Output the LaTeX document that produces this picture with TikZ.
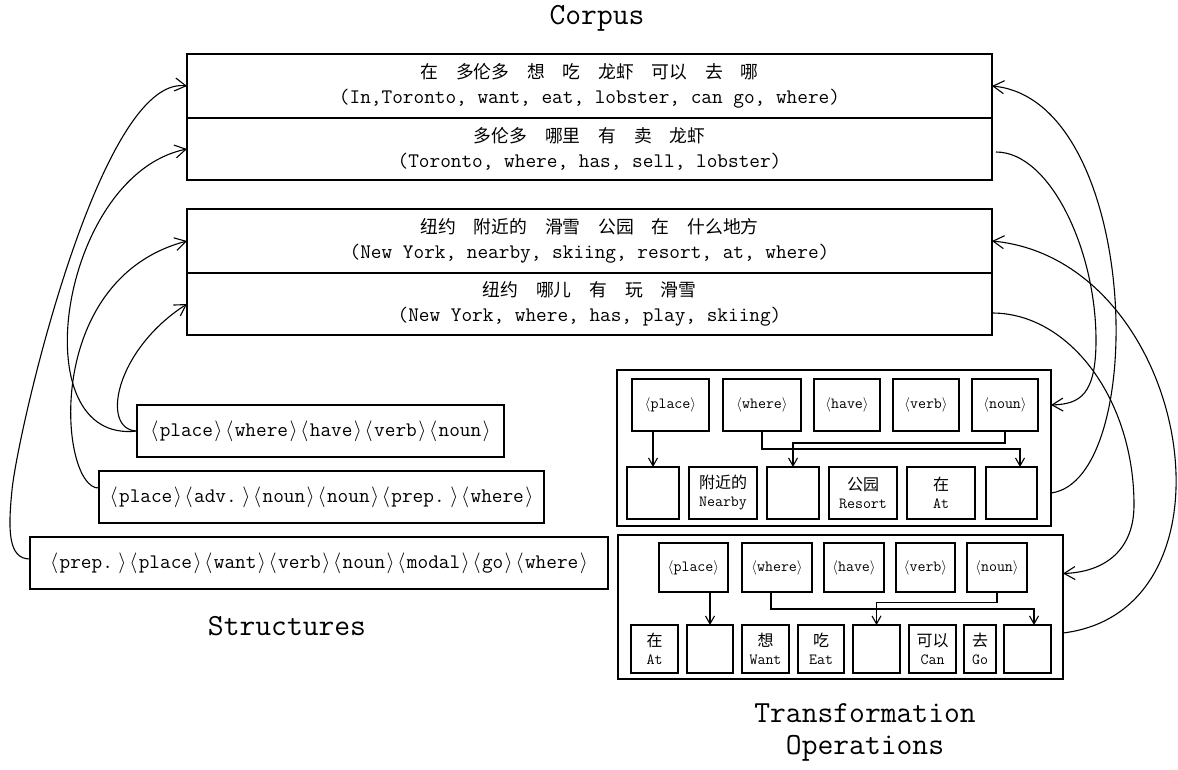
\documentclass[tikz,border=0pt]{standalone}
\usepackage{fontspec}
\newfontfamily\cjk{Noto Sans CJK SC}
\usetikzlibrary{arrows.meta}
% angle brackets as wide as one typewriter letter
\newcommand\lb{\makebox[0.525em]{$\langle$}}
\newcommand\rb{\makebox[0.525em]{$\rangle$}}
\newcommand\cnrow[1]{{\cjk #1}}
\newcommand\enrow[1]{{\ttfamily\fontsize{20.7}{24.5}\selectfont #1}}
\newcommand\cncell[1]{{\cjk\fontsize{16}{18}\selectfont #1}}

\begin{document}
\begin{tikzpicture}[x=1pt,y=-1pt,
  frame/.style={draw, line width=1.3pt, inner sep=0pt, outer sep=0pt, align=center},
  row/.style={frame, minimum width=805pt, font=\fontsize{17.8}{24.5}\selectfont},
  struct/.style={frame, minimum height=52pt, font=\ttfamily\fontsize{20.7}{24.5}\selectfont},
  cell/.style={frame, line width=1.2pt, font=\ttfamily\fontsize{15.5}{18}\selectfont},
  link/.style={line width=1.1pt},
  bigarrow/.style={link, -{Straight Barb[length=11pt,width=13pt]}},
  smallarrow/.style={link, -{Straight Barb[length=8pt,width=9pt]}},
  title/.style={inner sep=0pt, font=\ttfamily\fontsize{30.7}{36}\selectfont}]
\useasboundingbox (0,0) rectangle (1178,769);

% titles
\node[title] (tcorpus) at (597,18) {Corpus};
\node[title] (tstruct) at (287,626) {Structures};
\node[title] (ttrans) at (865,713) {Transformation};
\node[title] (toper) at (865,748) {Operations};

% corpus sentences
\node[row, minimum height=64pt] (c1) at (589.5,86)
  {\cnrow{在　多伦多　想　吃　龙虾　可以　去　哪}\\\enrow{(In,Toronto, want, eat, lobster, can go, where)}};
\node[row, minimum height=62pt] (c2) at (589.5,149)
  {\cnrow{多伦多　哪里　有　卖　龙虾}\\\enrow{(Toronto, where, has, sell, lobster)}};
\node[row, minimum height=64pt] (c3) at (589.5,241)
  {\cnrow{纽约　附近的　滑雪　公园　在　什么地方}\\\enrow{(New York, nearby, skiing, resort, at, where)}};
\node[row, minimum height=62pt] (c4) at (589.5,304)
  {\cnrow{纽约　哪儿　有　玩　滑雪}\\\enrow{(New York, where, has, play, skiing)}};

% structures
\node[struct, minimum width=367pt] (S1) at (320.5,431)
  {\lb place\rb\lb where\rb\lb have\rb\lb verb\rb\lb noun\rb};
\node[struct, minimum width=445pt] (S2) at (321.5,497)
  {\lb place\rb\lb adv.\kern0.2em\rb\lb noun\rb\lb noun\rb\lb prep.\kern0.2em\rb\lb where\rb};
\node[struct, minimum width=578pt] (S3) at (319,563)
  {\lb prep.\kern0.2em\rb\lb place\rb\lb want\rb\lb verb\rb\lb noun\rb\lb modal\rb\lb go\rb\lb where\rb};

% transformation operation 1
\node[frame, minimum width=434pt, minimum height=156pt] (T1) at (834,448) {};
\node[cell, minimum width=77pt, minimum height=52pt] (pl1) at (670.5,405) {$\langle$place$\rangle$};
\node[cell, minimum width=78pt, minimum height=52pt] (wh1) at (762,405) {$\langle$where$\rangle$};
\node[cell, minimum width=66pt, minimum height=52pt] (ha1) at (847,405) {$\langle$have$\rangle$};
\node[cell, minimum width=66pt, minimum height=52pt] (ve1) at (926,405) {$\langle$verb$\rangle$};
\node[cell, minimum width=66pt, minimum height=52pt] (no1) at (1005,405) {$\langle$noun$\rangle$};
\node[cell, minimum width=52pt, minimum height=52pt] (a1) at (653,493) {};
\node[cell, minimum width=68pt, minimum height=52pt] (a2) at (723,493) {\cncell{附近的}\\Nearby};
\node[cell, minimum width=52pt, minimum height=52pt] (a3) at (793,493) {};
\node[cell, minimum width=68pt, minimum height=52pt] (a4) at (863,493) {\cncell{公园}\\Resort};
\node[cell, minimum width=68pt, minimum height=52pt] (a5) at (941,493) {\cncell{在}\\At};
\node[cell, minimum width=51pt, minimum height=52pt] (a6) at (1011.5,493) {};

\draw[smallarrow] (a1.north |- pl1.south) -- (a1.north);
\draw[smallarrow] (wh1.south) -- ++(0,18) -| ([xshift=8.5pt]a6.north);
\draw[smallarrow] (no1.south) -- ++(0,12) -| (a3.north);

% transformation operation 2
\node[frame, minimum width=445pt, minimum height=144pt] (T2) at (840.5,607) {};
\node[cell, minimum width=69pt, minimum height=49pt] (pl2) at (693.5,567.5) {$\langle$place$\rangle$};
\node[cell, minimum width=70pt, minimum height=49pt] (wh2) at (777,567.5) {$\langle$where$\rangle$};
\node[cell, minimum width=60pt, minimum height=49pt] (ha2) at (854,567.5) {$\langle$have$\rangle$};
\node[cell, minimum width=59pt, minimum height=49pt] (ve2) at (925.5,567.5) {$\langle$verb$\rangle$};
\node[cell, minimum width=60pt, minimum height=49pt] (no2) at (997,567.5) {$\langle$noun$\rangle$};
\node[cell, minimum width=47pt, minimum height=48pt] (b1) at (654.5,649) {\cncell{在}\\At};
\node[cell, minimum width=46pt, minimum height=48pt] (b2) at (710,649) {};
\node[cell, minimum width=47pt, minimum height=48pt] (b3) at (765.5,649) {\cncell{想}\\Want};
\node[cell, minimum width=46pt, minimum height=48pt] (b4) at (821,649) {\cncell{吃}\\Eat};
\node[cell, minimum width=47pt, minimum height=48pt] (b5) at (876.5,649) {};
\node[cell, minimum width=47pt, minimum height=48pt] (b6) at (932.5,649) {\cncell{可以}\\Can};
\node[cell, minimum width=32pt, minimum height=48pt] (b7) at (980,649) {\cncell{去}\\Go};
\node[cell, minimum width=47pt, minimum height=48pt] (b8) at (1027.5,649) {};

\draw[smallarrow] (b2.north |- pl2.south) -- (b2.north);
\draw[smallarrow] ([xshift=-6pt]wh2.south) -- ++(0,17) -| ([xshift=6.5pt]b8.north);
\draw[smallarrow] (no2.south) -- ++(0,10.5) -| (b5.north);

% structures linked to corpus sentences
\draw[bigarrow] ([yshift=4pt]S3.west) .. controls (8,559) and (8,530) .. (12,490)
  .. controls (18,430) and (100,75) .. (c1.west);
\draw[bigarrow] (S1.west) .. controls (20,445) and (60,175) .. (c2.west);
\draw[bigarrow] ([yshift=9pt]S2.west) .. controls (60,490) and (40,280) .. (c3.west);
\draw[bigarrow] (S1.west) .. controls (100,430) and (115,350) .. (c4.west);

% corpus sentences linked to transformation operations
\draw[bigarrow] (T1.east |- a6.center) .. controls (1150,480) and (1140,100) .. (c1.east);
\draw[bigarrow] ([xshift=4pt,yshift=-3pt]c2.east) .. controls (1050,152) and (1096,250) .. (1096,340)
  .. controls (1096,395) and (1080,404) .. (T1.east |- no1.center);
\draw[bigarrow] ([yshift=-8pt]b8.north -| T2.east) .. controls (1250,610) and (1190,260) .. (c3.east);
\draw[bigarrow] ([yshift=-9pt]c4.east) .. controls (1070,313) and (1134,400) .. (1134,505)
  .. controls (1134,550) and (1105,572) .. ([yshift=-6pt]no2.center -| T2.east);
\end{tikzpicture}
\end{document}
